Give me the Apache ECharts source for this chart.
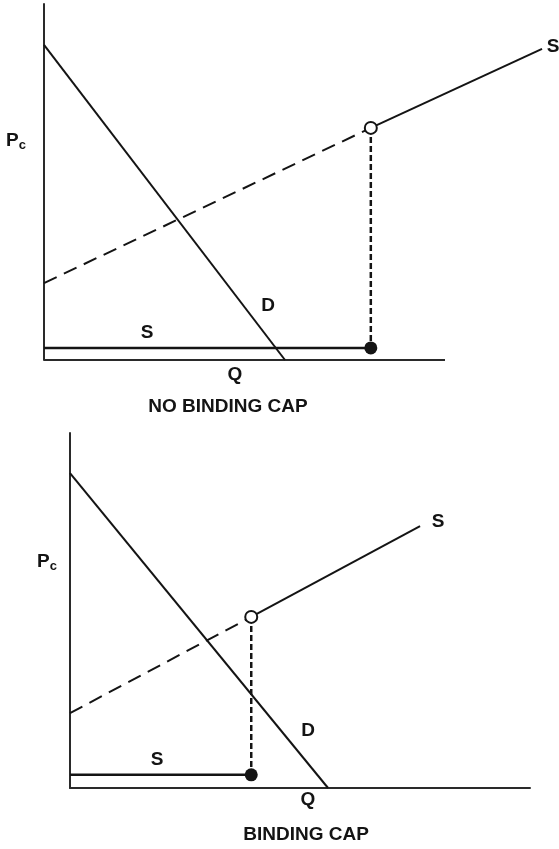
<!DOCTYPE html>
<html>
<head>
<meta charset="utf-8">
<script src="https://cdn.jsdelivr.net/npm/echarts@6/dist/echarts.min.js"></script>
<style>
  html, body { margin: 0; padding: 0; background: #fff; }
  #chart { width: 559px; height: 849px; }
</style>
</head>
<body>
<div id="chart"></div>
<script>
// coordinates in axis units: the drawn Q axis runs 0..100, Pc runs 0..100 up the axis
// top panel: no binding cap
let topDemand = [[0, 88.5], [60.1, 0]];
let topSupplyDashed = [[0, 21.6], [81.5, 65.2]];
let topSupplySolid = [[81.5, 65.2], [124.2, 87.4]];
let topSupplyFlat = [[0, 3.4], [81.5, 3.4]];
let topDrop = [[81.5, 65.2], [81.5, 3.4]];

// bottom panel: binding cap
let botDemand = [[0, 88.7], [56.1, 0]];
let botSupplyDashed = [[0, 21.1], [39.4, 48.2]];
let botSupplySolid = [[39.4, 48.2], [76.1, 73.8]];
let botSupplyFlat = [[0, 3.7], [39.4, 3.7]];
let botDrop = [[39.4, 48.2], [39.4, 3.7]];

// Q axis baseline (top panel's S curve runs past the end of it)
let qAxisLine = [[0, 0], [100, 0]];

let panelTitles = ['NO BINDING CAP', 'BINDING CAP'];

let ink = '#141414';
let axisInk = '#2a2a2a';
let font = 'bold 19px "Liberation Sans", Arial, sans-serif';

function axisPair(idx, xMax, showX) {
  let line = { show: true, lineStyle: { color: axisInk, width: 2 } };
  return {
    x: {
      type: 'value', gridIndex: idx, min: 0, max: xMax,
      axisLine: showX ? line : { show: false },
      axisTick: { show: false }, axisLabel: { show: false }, splitLine: { show: false }
    },
    y: {
      type: 'value', gridIndex: idx, min: 0, max: 100,
      axisLine: line, axisTick: { show: false }, axisLabel: { show: false }, splitLine: { show: false }
    }
  };
}

function lineSeries(idx, data, type, width, color) {
  return {
    type: 'line', xAxisIndex: idx, yAxisIndex: idx, data: data,
    symbol: 'none', silent: true,
    lineStyle: { color: color || ink, width: width || 2, type: type || 'solid' }
  };
}

function markSeries(idx, point, filled) {
  return {
    type: 'scatter', xAxisIndex: idx, yAxisIndex: idx, data: [point],
    symbol: 'circle', symbolSize: filled ? 13 : 12, z: 5, silent: true,
    itemStyle: filled
      ? { color: ink, opacity: 1 }
      : { color: '#fff', borderColor: ink, borderWidth: 2, opacity: 1 }
  };
}

function label(x, y, text) {
  return {
    type: 'text', x: x, y: y,
    style: { text: text, font: font, fill: ink, align: 'center', verticalAlign: 'middle' }
  };
}

function pcLabel(x, y) {
  return {
    type: 'text', x: x, y: y,
    style: {
      text: '{p|P}{c|c}', fill: ink, align: 'left', verticalAlign: 'middle',
      rich: {
        p: { font: font, fill: ink },
        c: { font: 'bold 13px "Liberation Sans", Arial, sans-serif', fill: ink, padding: [9, 0, 0, 0] }
      }
    }
  };
}

let a0 = axisPair(0, 125, false);
let a1 = axisPair(1, 100, true);

let myChart = echarts.init(document.getElementById('chart'));
let option = {
  animation: false,
  backgroundColor: '#fff',
  grid: [
    { left: 44, top: 4, width: 501.25, height: 356 },
    { left: 70, top: 433, width: 460, height: 355 }
  ],
  xAxis: [a0.x, a1.x],
  yAxis: [a0.y, a1.y],
  series: [
    lineSeries(0, qAxisLine, 'solid', 2, axisInk),
    lineSeries(0, topDemand),
    lineSeries(0, topSupplyDashed, [14, 8]),
    lineSeries(0, topSupplySolid),
    lineSeries(0, topSupplyFlat, 'solid', 2.5),
    lineSeries(0, topDrop, [6, 3], 2.5),
    markSeries(0, topSupplySolid[0], false),
    markSeries(0, topSupplyFlat[1], true),

    lineSeries(1, botDemand),
    lineSeries(1, botSupplyDashed, [14, 8]),
    lineSeries(1, botSupplySolid),
    lineSeries(1, botSupplyFlat, 'solid', 2.5),
    lineSeries(1, botDrop, [6, 3], 2.5),
    markSeries(1, botSupplySolid[0], false),
    markSeries(1, botSupplyFlat[1], true)
  ],
  graphic: [
    pcLabel(6, 141),
    label(553, 47, 'S'),
    label(268, 306, 'D'),
    label(147, 333, 'S'),
    label(235, 375, 'Q'),
    label(228, 407, panelTitles[0]),

    pcLabel(37, 562),
    label(438, 522, 'S'),
    label(308, 731, 'D'),
    label(157, 760, 'S'),
    label(308, 800, 'Q'),
    label(306, 835, panelTitles[1])
  ]
};
myChart.setOption(option);
</script>
</body>
</html>
